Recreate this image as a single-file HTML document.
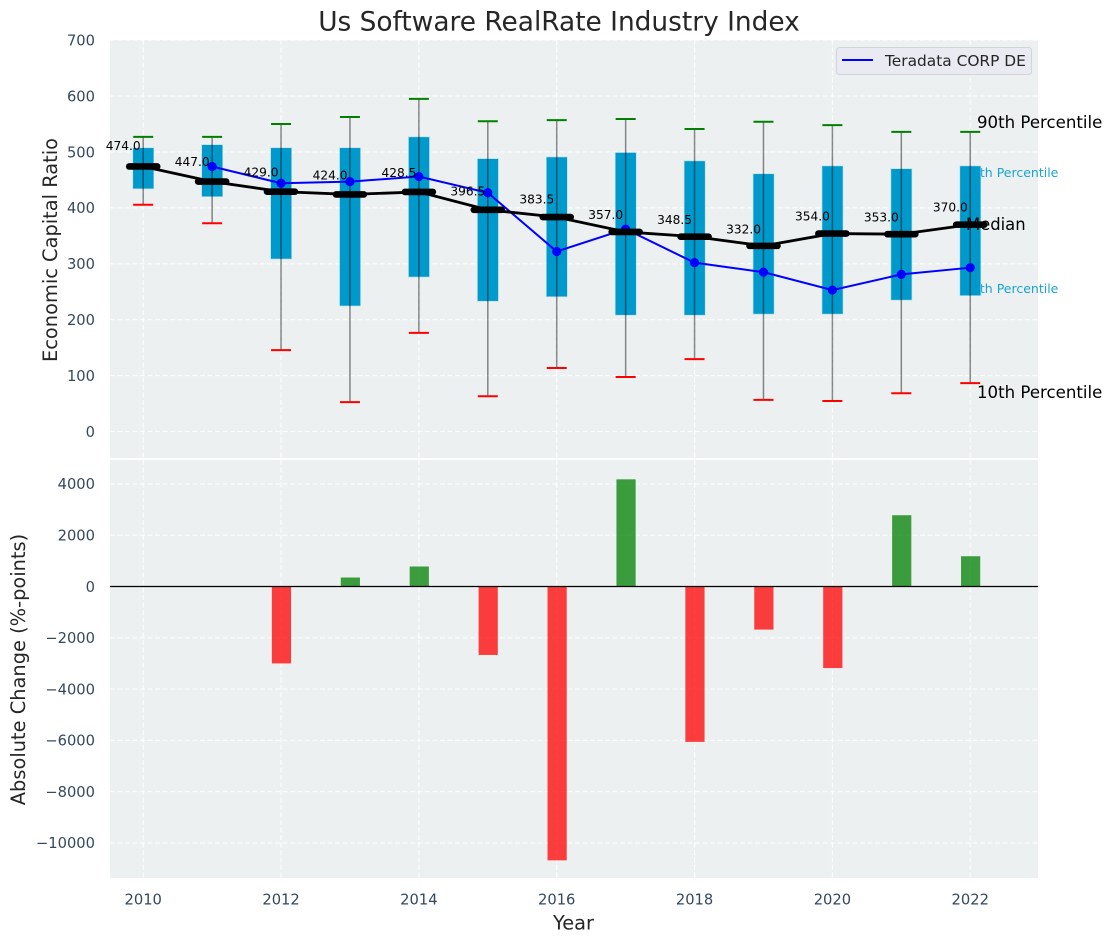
<!DOCTYPE html>
<html>
<head>
<meta charset="utf-8">
<title>Us Software RealRate Industry Index</title>
<style>
html,body{margin:0;padding:0;background:#fff;width:1112px;height:942px;overflow:hidden}
svg{display:block;font-family:"DejaVu Sans","Liberation Sans",sans-serif}
</style>
</head>
<body>
<svg id="chart" xmlns="http://www.w3.org/2000/svg" width="1112" height="942" viewBox="0 0 1112 942">
  <rect x="110" y="40" width="928" height="418" fill="#ecf0f1"/>
  <rect x="110" y="460" width="928" height="418" fill="#ecf0f1"/>
  <g id="grid"></g>
  <g id="percentile-notes">
    <text x="964" y="177" font-size="12.5" fill="#1ba3d0">75th Percentile</text>
    <text x="964" y="293" font-size="12.5" fill="#1ba3d0">25th Percentile</text>
  </g>
  <g id="marks"></g>
  <g id="axes"></g>
  <text x="559" y="30.5" text-anchor="middle" font-size="26.4" fill="#262626">Us Software RealRate Industry Index</text>
  <text transform="translate(57,250) rotate(-90)" text-anchor="middle" font-size="19.4" fill="#262626">Economic Capital Ratio</text>
  <text transform="translate(25,669.5) rotate(-90)" text-anchor="middle" font-size="19.4" fill="#262626">Absolute Change (%-points)</text>
  <text x="573.5" y="929.5" text-anchor="middle" font-size="19.4" fill="#262626">Year</text>
  <text x="977" y="128" font-size="16.6" fill="#000">90th Percentile</text>
  <text x="966" y="230" font-size="16.4" fill="#000">Median</text>
  <text x="977" y="398" font-size="16.6" fill="#000">10th Percentile</text>
  <g>
    <rect x="836.5" y="47.5" width="195" height="27" rx="3" fill="#eaeaf2" stroke="#d3d3da" stroke-width="1"/>
    <line x1="842" y1="60" x2="873" y2="60" stroke="#0000ff" stroke-width="2"/>
    <text x="885" y="66" font-size="15.4" fill="#262626">Teradata CORP DE</text>
  </g>
</svg>
<script>
// Chart data
const years = [2010, 2011, 2012, 2013, 2014, 2015, 2016, 2017, 2018, 2019, 2020, 2021, 2022];
const p90 = [527, 527, 550, 562.5, 595, 555, 557, 559, 541, 554, 548, 536, 536];
const p75 = [507.5, 513, 507.5, 507.5, 527, 488, 491, 499, 484, 461, 475, 470, 475];
const medians = [474.0, 447.0, 429.0, 424.0, 428.5, 396.5, 383.5, 357.0, 348.5, 332.0, 354.0, 353.0, 370.0];
const p25 = [434, 420, 308.5, 224.5, 276.3, 233, 241, 208, 208, 210, 210, 235, 243];
const p10 = [405.5, 372.5, 145.5, 52.5, 176.5, 63, 113.5, 97.5, 129.5, 56.5, 54.5, 68.5, 86.5];
const companyYears = [2011, 2012, 2013, 2014, 2015, 2016, 2017, 2018, 2019, 2020, 2021, 2022];
const companyValues = [474, 444, 447, 456, 427, 322, 362, 302, 285, 253, 281, 293];
const changeYears = [2012, 2013, 2014, 2015, 2016, 2017, 2018, 2019, 2020, 2021, 2022];
const changeValues = [-3000, 350, 780, -2670, -10680, 4180, -6060, -1680, -3180, 2780, 1180];
const xTicks = [2010, 2012, 2014, 2016, 2018, 2020, 2022];
const topTicks = [0, 100, 200, 300, 400, 500, 600, 700];
const bottomTicks = [-10000, -8000, -6000, -4000, -2000, 0, 2000, 4000];

// Axis functions
const xScale = v => 143.2 + (v - 2010) * 68.92;
const yTop = v => 431.5 - v * 0.5591;
const yBottom = v => 586.5 - v * 0.02564;

const NS = 'http://www.w3.org/2000/svg';
function make(tag, parent, props, content) {
  const node = document.createElementNS(NS, tag);
  for (const key in props) node.setAttribute(key, props[key]);
  if (content !== undefined) node.textContent = content;
  parent.appendChild(node);
  return node;
}
const grid = document.getElementById('grid');
const marks = document.getElementById('marks');
const axes = document.getElementById('axes');
const dash = '5 2.5';
const gridStyle = {stroke: '#ffffff', 'stroke-width': 1.1, 'stroke-opacity': 0.85, 'stroke-dasharray': dash};

// Grid and tick labels
xTicks.forEach(t => {
  const x = xScale(t);
  const g1 = make('line', grid, {x1: x, x2: x, y1: 40, y2: 458, ...gridStyle});
  
  
  const g2 = make('line', grid, {x1: x, x2: x, y1: 460, y2: 878, ...gridStyle});
  
  
  const label = make('text', axes, {x: x, y: 904.5, 'text-anchor': 'middle', 'font-size': 14.7, fill: '#34495e'}, String(t));
  
  
});
topTicks.forEach(t => {
  const y = yTop(t);
  const g = make('line', grid, {x1: 110, x2: 1038, y1: y, y2: y, ...gridStyle});
  
  
  const label = make('text', axes, {x: 95, y: y + 5.3, 'text-anchor': 'end', 'font-size': 14.7, fill: '#34495e'}, String(t));
  
  
});
bottomTicks.forEach(t => {
  const y = yBottom(t);
  const g = make('line', grid, {x1: 110, x2: 1038, y1: y, y2: y, ...gridStyle});
  
  
  const label = make('text', axes, {x: 95, y: y + 5.3, 'text-anchor': 'end', 'font-size': 14.7, fill: '#34495e'}, String(t).replace('-', '\u2212'));
  
  
});

// Interquartile boxes
years.forEach((yr, i) => {
  const x = xScale(yr);
  const box = make('rect', marks, {x: x - 10.4, y: yTop(p75[i]), width: 21, height: yTop(p25[i]) - yTop(p75[i]), fill: '#0099cc', stroke: '#b5dfee', 'stroke-width': 0.6});
  
  
});

// Whiskers and caps
years.forEach((yr, i) => {
  const x = xScale(yr);
  const w = make('line', marks, {x1: x, x2: x, y1: yTop(p90[i]), y2: yTop(p10[i]), stroke: '#000000', 'stroke-opacity': 0.45, 'stroke-width': 1.5});
  
  
  const hi = make('line', marks, {x1: x - 10, x2: x + 10, y1: yTop(p90[i]), y2: yTop(p90[i]), stroke: '#008000', 'stroke-width': 2});
  
  
  const lo = make('line', marks, {x1: x - 10, x2: x + 10, y1: yTop(p10[i]), y2: yTop(p10[i]), stroke: '#ff0000', 'stroke-width': 2});
  
  
});

// Company series
const companyLine = make('polyline', marks, {points: companyYears.map((yr, i) => xScale(yr) + ',' + yTop(companyValues[i])).join(' '), fill: 'none', stroke: '#0000ff', 'stroke-width': 2});


companyYears.forEach((yr, i) => {
  const dot = make('circle', marks, {cx: xScale(yr), cy: yTop(companyValues[i]), r: 4.6, fill: '#0000ff'});
  
  
});

// Median series
const medianLine = make('polyline', marks, {points: years.map((yr, i) => xScale(yr) + ',' + yTop(medians[i])).join(' '), fill: 'none', stroke: '#000000', 'stroke-width': 2.8});


years.forEach((yr, i) => {
  const x = xScale(yr);
  const seg = make('line', marks, {x1: x - 14, x2: x + 14, y1: yTop(medians[i]), y2: yTop(medians[i]), stroke: '#000000', 'stroke-width': 6.6, 'stroke-linecap': 'round'});
  
  
});
years.forEach((yr, i) => {
  const label = make('text', marks, {x: xScale(yr) - 2.5, y: yTop(medians[i] * 1.05) - 3, 'text-anchor': 'end', 'font-size': 12.2, fill: '#000000'}, medians[i].toFixed(1));
  
  
});

// Change bars
changeYears.forEach((yr, i) => {
  const v = changeValues[i];
  const y0 = yBottom(0);
  const y1 = yBottom(v);
  const bar = make('rect', marks, {x: xScale(yr) - 9.2, y: Math.min(y0, y1), width: 19.2, height: Math.abs(y1 - y0), fill: v < 0 ? '#ff0000' : '#008000', 'fill-opacity': 0.75});
  
  
});
const zero = make('line', marks, {x1: 110, x2: 1038, y1: yBottom(0), y2: yBottom(0), stroke: '#000000', 'stroke-width': 1.3});


</script>
</body>
</html>
